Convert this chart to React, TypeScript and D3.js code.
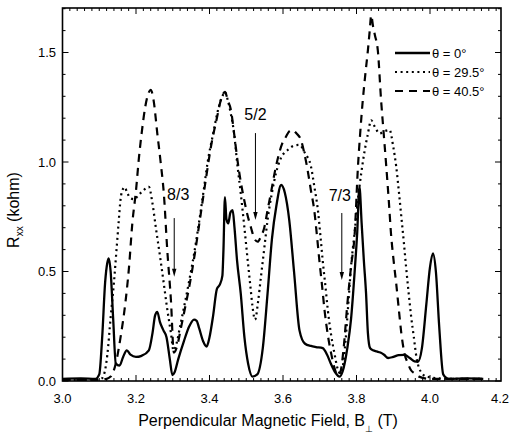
import React from "react";
import * as d3 from "d3";

type Pt = [number, number];

// Rxx (kohm) vs perpendicular field B (T)
const theta0: Pt[] = [
  [3.0, 0.01], [3.05, 0.012], [3.09, 0.01], [3.1, 0.03], [3.108, 0.2], [3.116, 0.45], [3.122, 0.54],
  [3.126, 0.56], [3.131, 0.5], [3.138, 0.28], [3.145, 0.08], [3.155, 0.07], [3.165, 0.11], [3.175, 0.14],
  [3.185, 0.12], [3.2, 0.11], [3.215, 0.115], [3.235, 0.14], [3.245, 0.22], [3.252, 0.3], [3.258, 0.316],
  [3.265, 0.27], [3.275, 0.23], [3.283, 0.2], [3.292, 0.1], [3.299, 0.027], [3.305, 0.04], [3.315, 0.1],
  [3.33, 0.18], [3.345, 0.25], [3.358, 0.28], [3.365, 0.275], [3.372, 0.24], [3.383, 0.18], [3.392, 0.157],
  [3.4, 0.2], [3.41, 0.3], [3.42, 0.42], [3.428, 0.44], [3.435, 0.48], [3.438, 0.6], [3.442, 0.84],
  [3.446, 0.74], [3.451, 0.72], [3.457, 0.77], [3.463, 0.78], [3.468, 0.7], [3.475, 0.55], [3.485, 0.4],
  [3.495, 0.2], [3.505, 0.08], [3.517, 0.02], [3.53, 0.03], [3.545, 0.15], [3.558, 0.4], [3.57, 0.65],
  [3.582, 0.8], [3.595, 0.895], [3.605, 0.86], [3.617, 0.735], [3.63, 0.5], [3.645, 0.23], [3.66, 0.17],
  [3.676, 0.16], [3.69, 0.155], [3.708, 0.15], [3.72, 0.12], [3.73, 0.08], [3.742, 0.04], [3.754, 0.02],
  [3.765, 0.06], [3.775, 0.15], [3.785, 0.28], [3.795, 0.5], [3.802, 0.68], [3.808, 0.887], [3.814, 0.72],
  [3.82, 0.55], [3.826, 0.4], [3.831, 0.22], [3.837, 0.15], [3.845, 0.14], [3.855, 0.135], [3.865, 0.13],
  [3.875, 0.12], [3.886, 0.105], [3.9, 0.11], [3.915, 0.118], [3.931, 0.119], [3.945, 0.105], [3.958, 0.09],
  [3.967, 0.088], [3.978, 0.15], [3.99, 0.35], [4.0, 0.52], [4.008, 0.583], [4.016, 0.5], [4.025, 0.25],
  [4.036, 0.03], [4.05, 0.01], [4.1, 0.012], [4.145, 0.01],
];

const theta295: Pt[] = [
  [3.0, 0.005], [3.08, 0.005], [3.105, 0.01], [3.113, 0.03], [3.122, 0.12], [3.131, 0.29], [3.14, 0.45],
  [3.147, 0.6], [3.153, 0.73], [3.158, 0.83], [3.164, 0.875], [3.169, 0.885], [3.176, 0.86], [3.185, 0.835],
  [3.196, 0.83], [3.207, 0.85], [3.217, 0.865], [3.227, 0.88], [3.235, 0.887], [3.244, 0.82], [3.254, 0.7],
  [3.267, 0.55], [3.276, 0.44], [3.284, 0.34], [3.295, 0.22], [3.302, 0.14], [3.31, 0.17], [3.32, 0.25],
  [3.331, 0.34], [3.345, 0.46], [3.358, 0.58], [3.372, 0.73], [3.385, 0.88], [3.395, 1.0], [3.41, 1.13],
  [3.425, 1.25], [3.435, 1.3], [3.442, 1.32], [3.45, 1.28], [3.458, 1.22], [3.467, 1.13], [3.475, 1.0],
  [3.485, 0.857], [3.495, 0.7], [3.504, 0.55], [3.512, 0.42], [3.517, 0.34], [3.524, 0.28], [3.532, 0.36],
  [3.54, 0.476], [3.55, 0.62], [3.558, 0.735], [3.57, 0.86], [3.581, 0.95], [3.595, 1.02], [3.613, 1.055],
  [3.63, 1.075], [3.645, 1.078], [3.66, 1.04], [3.676, 0.98], [3.686, 0.88], [3.695, 0.78], [3.702, 0.66],
  [3.708, 0.55], [3.715, 0.44], [3.722, 0.324], [3.731, 0.21], [3.74, 0.126], [3.748, 0.06], [3.755, 0.035],
  [3.762, 0.06], [3.77, 0.18], [3.778, 0.36], [3.785, 0.52], [3.795, 0.68], [3.804, 0.83], [3.813, 0.95],
  [3.822, 1.05], [3.83, 1.12], [3.84, 1.19], [3.85, 1.16], [3.863, 1.13], [3.875, 1.14], [3.89, 1.146],
  [3.9, 1.07], [3.908, 0.98], [3.915, 0.87], [3.922, 0.75], [3.929, 0.63], [3.935, 0.52], [3.942, 0.4],
  [3.949, 0.29], [3.956, 0.2], [3.963, 0.11], [3.97, 0.06], [3.976, 0.04], [3.99, 0.02], [4.05, 0.01],
  [4.145, 0.01],
];

const theta405: Pt[] = [
  [3.0, 0.005], [3.09, 0.005], [3.12, 0.01], [3.131, 0.02], [3.145, 0.08], [3.158, 0.2], [3.172, 0.37],
  [3.181, 0.52], [3.19, 0.72], [3.2, 0.87], [3.208, 1.02], [3.216, 1.14], [3.225, 1.25], [3.233, 1.31],
  [3.24, 1.33], [3.248, 1.28], [3.258, 1.13], [3.267, 1.0], [3.276, 0.85], [3.285, 0.6], [3.295, 0.37],
  [3.303, 0.13], [3.312, 0.16], [3.322, 0.24], [3.333, 0.33], [3.347, 0.45], [3.36, 0.58], [3.375, 0.75],
  [3.39, 0.92], [3.405, 1.08], [3.42, 1.2], [3.432, 1.29], [3.442, 1.32], [3.45, 1.28], [3.458, 1.24],
  [3.467, 1.13], [3.476, 1.01], [3.485, 0.91], [3.494, 0.83], [3.503, 0.76], [3.513, 0.7], [3.522, 0.65],
  [3.531, 0.636], [3.54, 0.66], [3.549, 0.7], [3.558, 0.78], [3.567, 0.857], [3.576, 0.94], [3.585, 1.01],
  [3.597, 1.08], [3.608, 1.115], [3.617, 1.14], [3.626, 1.146], [3.637, 1.13], [3.649, 1.1], [3.658, 1.04],
  [3.667, 0.963], [3.676, 0.87], [3.685, 0.78], [3.692, 0.67], [3.699, 0.55], [3.706, 0.44], [3.713, 0.324],
  [3.722, 0.21], [3.731, 0.126], [3.74, 0.06], [3.749, 0.025], [3.756, 0.04], [3.765, 0.15], [3.775, 0.35],
  [3.785, 0.52], [3.795, 0.67], [3.804, 0.98], [3.81, 1.13], [3.817, 1.28], [3.824, 1.4], [3.831, 1.51],
  [3.836, 1.6], [3.84, 1.67], [3.845, 1.62], [3.85, 1.58], [3.858, 1.51], [3.867, 1.28], [3.874, 1.13],
  [3.881, 0.98], [3.888, 0.82], [3.894, 0.67], [3.901, 0.55], [3.908, 0.446], [3.915, 0.33], [3.922, 0.218],
  [3.93, 0.13], [3.94, 0.08], [3.948, 0.05], [3.958, 0.035], [3.97, 0.02], [4.0, 0.01], [4.145, 0.01],
];

const seriesLabels = ["θ = 0°", "θ = 29.5°", "θ = 40.5°"];
const xTickValues = [3.0, 3.2, 3.4, 3.6, 3.8, 4.0, 4.2];
const yTickValues = [0.0, 0.5, 1.0, 1.5];
const fractionLabels = ["8/3", "5/2", "7/3"];
const fractionField = [3.304, 3.525, 3.76];
const fractionTextR = [0.826, 1.192, 0.822];
const fractionArrowTop = [0.744, 1.132, 0.767];
const fractionArrowBottom = [0.476, 0.735, 0.461];

const W = 510;
const H = 438;
const left = 62.5;
const right = 501;
const top = 8;
const bottom = 381;
const font = "'Liberation Sans', Arial, Helvetica, sans-serif";

export default function App() {
  const x = d3.scaleLinear().domain([3.0, 4.2]).range([62.5, 503.5]);
  const y = d3.scaleLinear().domain([0, 1.5]).range([381, 52.5]);
  const line = d3
    .line<Pt>()
    .x((d) => x(d[0]))
    .y((d) => y(d[1]))
    .curve(d3.curveMonotoneX);

  const styles = [
    { dash: undefined as string | undefined, w: 2.3 },
    { dash: "2,3.6", w: 2.2 },
    { dash: "8,6", w: 2.2 },
  ];
  const data = [theta0, theta295, theta405];

  const xMinor = d3.range(3.0, 4.2001, 0.02).filter((v) => x(v) <= right + 0.5);
  const yMinor = d3.range(0, 1.7001, 0.1);

  const tickLenMajor = 6;
  const tickLenMinor = 3;
  const isMajorX = (v: number) => Math.abs(v * 5 - Math.round(v * 5)) < 1e-6;
  const isMajorY = (v: number) => Math.abs(v * 2 - Math.round(v * 2)) < 1e-6;

  return (
    <div style={{ position: "absolute", left: 0, top: 0 }}>
      <svg width={W} height={H} style={{ display: "block", background: "#fff" }}>
        <defs>
          <clipPath id="plotClip">
            <rect x={left} y={top} width={right - left} height={bottom - top} />
          </clipPath>
        </defs>
        {/* data lines */}
        <g clipPath="url(#plotClip)" fill="none" stroke="#000">
          {data.map((d, i) => (
            <path
              key={i}
              d={line(d) || ""}
              strokeWidth={styles[i].w}
              strokeDasharray={styles[i].dash}
              strokeLinejoin="round"
            />
          ))}
        </g>
        {/* frame */}
        <rect x={left} y={top} width={right - left} height={bottom - top} fill="none" stroke="#000" strokeWidth={1.6} />
        {/* ticks */}
        <g stroke="#000" strokeWidth={1}>
          {xMinor.map((v, i) => {
            const len = isMajorX(v) ? tickLenMajor : tickLenMinor;
            const px = x(v);
            return (
              <g key={i}>
                <line x1={px} x2={px} y1={bottom} y2={bottom - len} />
                <line x1={px} x2={px} y1={top} y2={top + len} />
              </g>
            );
          })}
          {yMinor.map((v, i) => {
            const len = isMajorY(v) ? tickLenMajor : tickLenMinor;
            const py = y(v);
            return (
              <g key={i}>
                <line x1={left} x2={left + len} y1={py} y2={py} />
                <line x1={right} x2={right - len} y1={py} y2={py} />
              </g>
            );
          })}
        </g>
        {/* tick labels */}
        <g fontFamily={font} fontSize={13} fill="#000">
          {xTickValues.map((v) => {
            const px = x(v);
            const edge = px + 9 > W - 1;
            return (
              <text key={v} x={edge ? W - 1 : px} y={403} textAnchor={edge ? "end" : "middle"}>
                {d3.format(".1f")(v)}
              </text>
            );
          })}
          {yTickValues.map((v) => (
            <text key={v} x={56} y={y(v) + 4.5} textAnchor="end">
              {d3.format(".1f")(v)}
            </text>
          ))}
        </g>
        {/* axis titles */}
        <text x={268} y={426} textAnchor="middle" fontFamily={font} fontSize={16} fill="#000">
          Perpendicular Magnetic Field, B
          <tspan fontSize={9} dy={6}>⊥</tspan>
          <tspan dy={-6}> (T)</tspan>
        </text>
        <text
          transform={`translate(19, 210) rotate(-90)`}
          textAnchor="middle"
          fontFamily={font}
          fontSize={16}
          fill="#000"
        >
          R<tspan fontSize={10} dy={4}>xx</tspan>
          <tspan dy={-4}> (kohm)</tspan>
        </text>
        {/* fraction annotations */}
        <g fontFamily={font} fontSize={16} fill="#000">
          {fractionLabels.map((lab, i) => {
            const px = x(fractionField[i]);
            const y1 = y(fractionArrowTop[i]);
            const y2 = y(fractionArrowBottom[i]);
            return (
              <g key={lab}>
                <text x={px + (i === 0 ? 4 : i === 2 ? -2 : 0)} y={y(fractionTextR[i])} textAnchor="middle">
                  {lab}
                </text>
                <line x1={px} x2={px} y1={y1} y2={y2 - 6} stroke="#000" strokeWidth={1} />
                <path d={`M${px - 2.2},${y2 - 8} L${px + 2.2},${y2 - 8} L${px},${y2} Z`} fill="#000" />
              </g>
            );
          })}
        </g>
        {/* legend */}
        <g fontFamily={font} fontSize={13} fill="#000">
          {seriesLabels.map((lab, i) => {
            const ly = 53 + i * 19;
            return (
              <g key={lab}>
                <line
                  x1={395}
                  x2={430}
                  y1={ly}
                  y2={ly}
                  stroke="#000"
                  strokeWidth={styles[i].w}
                  strokeDasharray={styles[i].dash}
                />
                <text x={432} y={ly + 4.5}>
                  {lab}
                </text>
              </g>
            );
          })}
        </g>
      </svg>
    </div>
  );
}
